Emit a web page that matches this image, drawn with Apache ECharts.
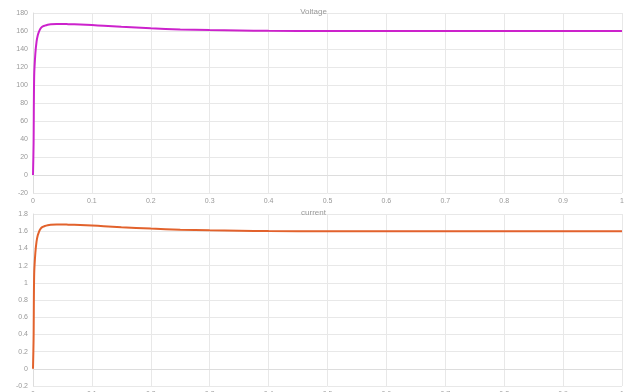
<!DOCTYPE html>
<html>
<head>
<meta charset="utf-8">
<script src="https://cdn.jsdelivr.net/npm/echarts@6/dist/echarts.min.js"></script>
<style>
  html, body { margin: 0; padding: 0; background: #fff; }
  #chart { width: 627px; height: 392px; }
</style>
</head>
<body>
<div id="chart"></div>
<script>
// time samples (s)
const time = [0, 0.001, 0.002, 0.004, 0.006, 0.008, 0.01, 0.012, 0.015, 0.02, 0.025, 0.03, 0.04, 0.05, 0.06, 0.08, 0.1, 0.12, 0.15, 0.2, 0.25, 0.3, 0.35, 0.4, 0.5, 0.6, 0.7, 0.8, 0.9, 1.0]
const voltage = [0, 35, 110, 135, 148, 155, 159, 162, 164.5, 166, 167, 167.5, 167.8, 167.8, 167.6, 167.2, 166.6, 165.8, 164.6, 163, 161.8, 161, 160.5, 160.2, 160, 159.9, 159.9, 159.9, 159.9, 159.9]
const current = [0, 0.35, 1.1, 1.35, 1.48, 1.55, 1.59, 1.62, 1.645, 1.66, 1.67, 1.675, 1.678, 1.678, 1.676, 1.672, 1.666, 1.658, 1.646, 1.63, 1.618, 1.61, 1.605, 1.602, 1.6, 1.599, 1.599, 1.599, 1.599, 1.599]

const chart = echarts.init(document.getElementById('chart'))

const pairs = vals => time.map((t, i) => [t, vals[i]])
const label = {fontSize: 7, color: '#999', margin: 5}
const split = {show: true, lineStyle: {color: '#e8e8e8', width: 1}}
const axLine = {lineStyle: {color: '#ddd'}}

chart.setOption({
  animation: false,
  title: [
    {text: 'Voltage', left: 'center', top: 3, textStyle: {fontSize: 8, fontWeight: 'normal', color: '#999'}},
    {text: 'current', left: 'center', top: 204, textStyle: {fontSize: 8, fontWeight: 'normal', color: '#999'}}
  ],
  grid: [
    {left: 33, right: 5, top: 13, height: 180, outerBoundsMode: 'none'},
    {left: 33, right: 5, top: 214, height: 172, outerBoundsMode: 'none'}
  ],
  xAxis: [
    {type: 'value', gridIndex: 0, min: 0, max: 1, interval: 0.1, axisLabel: label, splitLine: split, axisLine: axLine, axisTick: {show: false}},
    {type: 'value', gridIndex: 1, min: 0, max: 1, interval: 0.1, axisLabel: label, splitLine: split, axisLine: axLine, axisTick: {show: false}}
  ],
  yAxis: [
    {type: 'value', gridIndex: 0, min: -20, max: 180, interval: 20, axisLabel: label, splitLine: split, axisLine: {show: true, lineStyle: {color: '#ddd'}}, axisTick: {show: false}},
    {type: 'value', gridIndex: 1, min: -0.2, max: 1.8, interval: 0.2, axisLabel: label, splitLine: split, axisLine: {show: true, lineStyle: {color: '#ddd'}}, axisTick: {show: false}}
  ],
  series: [
    {name: 'Voltage', type: 'line', xAxisIndex: 0, yAxisIndex: 0, data: pairs(voltage), showSymbol: false, smooth: 0.3, lineStyle: {color: '#cc22cc', width: 2}},
    {name: 'current', type: 'line', xAxisIndex: 1, yAxisIndex: 1, data: pairs(current), showSymbol: false, smooth: 0.3, lineStyle: {color: '#e2622c', width: 2}}
  ]
})
</script>
</body>
</html>
